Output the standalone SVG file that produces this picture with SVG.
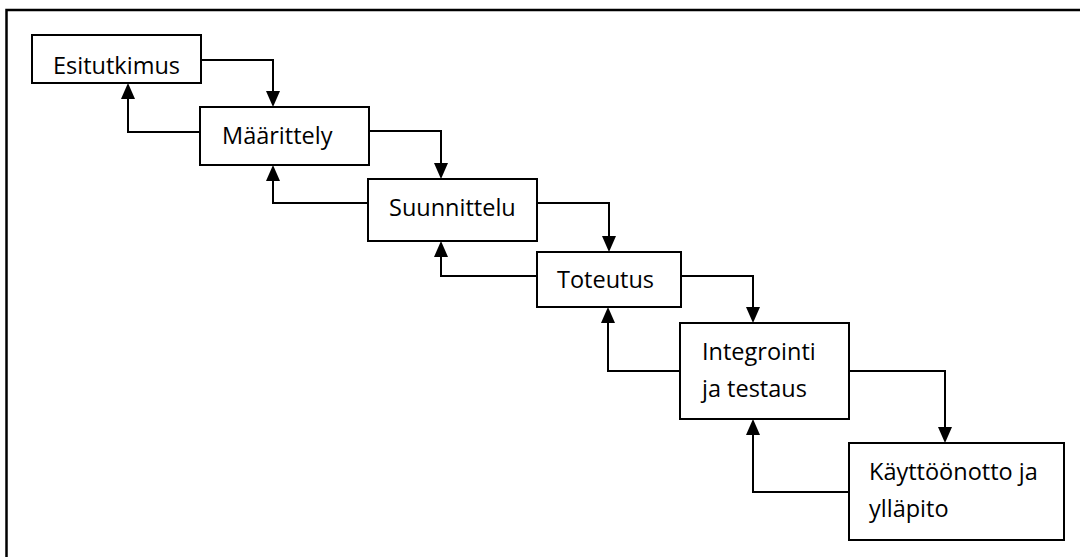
<svg xmlns="http://www.w3.org/2000/svg" width="1080" height="557" viewBox="0 0 1080 557">
<style>
.box{fill:#fff;stroke:#000;stroke-width:2}
.lbl{font-family:"Open Sans","Noto Sans",sans-serif;font-size:23.5px;fill:#000}
.con{fill:none;stroke:#000;stroke-width:2}
.ah{fill:#000}
</style>
<rect x="0" y="0" width="1080" height="557" fill="#fff"/>
<path d="M6.5,560 V10 H1085" fill="none" stroke="#000" stroke-width="2.5"/>
<g id="connectors">
<path class="con" d="M201,60 H273 V92"/>
<path class="con" d="M200,132 H128 V99"/>
<path class="con" d="M369,131 H441 V164"/>
<path class="con" d="M368,203 H273 V181"/>
<path class="con" d="M537,203 H609 V237"/>
<path class="con" d="M537,276 H441 V257"/>
<path class="con" d="M681,276 H753 V308"/>
<path class="con" d="M681,371 H608 V323"/>
<path class="con" d="M849,371 H945 V428"/>
<path class="con" d="M849,492 H753 V435"/>
<path class="ah" d="M128,83 L121,99 L135,99 Z"/>
<path class="ah" d="M273,165 L266,181 L280,181 Z"/>
<path class="ah" d="M441,241 L434,257 L448,257 Z"/>
<path class="ah" d="M608,307 L601,323 L615,323 Z"/>
<path class="ah" d="M753,419 L746,435 L760,435 Z"/>
<path class="ah" d="M273,107 L266,91 L280,91 Z"/>
<path class="ah" d="M441,179 L434,163 L448,163 Z"/>
<path class="ah" d="M609,252 L602,236 L616,236 Z"/>
<path class="ah" d="M753,323 L746,307 L760,307 Z"/>
<path class="ah" d="M945,443 L938,427 L952,427 Z"/>
</g>
<g id="esitutkimus">
<rect class="box" x="32" y="35" width="169" height="48"/>
<text class="lbl" x="53" y="74">Esitutkimus</text>
</g>
<g id="maarittely">
<rect class="box" x="200" y="107" width="169" height="58"/>
<text class="lbl" x="222" y="144">Määrittely</text>
</g>
<g id="suunnittelu">
<rect class="box" x="368" y="179" width="169" height="62"/>
<text class="lbl" x="389" y="216">Suunnittelu</text>
</g>
<g id="toteutus">
<rect class="box" x="537" y="252" width="144" height="55"/>
<text class="lbl" x="557" y="288">Toteutus</text>
</g>
<g id="integrointi">
<rect class="box" x="680" y="323" width="169" height="96"/>
<text class="lbl" x="702" y="360">Integrointi</text>
<text class="lbl" x="702" y="397">ja testaus</text>
</g>
<g id="kayttoonotto">
<rect class="box" x="849" y="443" width="215" height="97"/>
<text class="lbl" x="869" y="480">Käyttöönotto ja</text>
<text class="lbl" x="869" y="517">ylläpito</text>
</g>
</svg>
